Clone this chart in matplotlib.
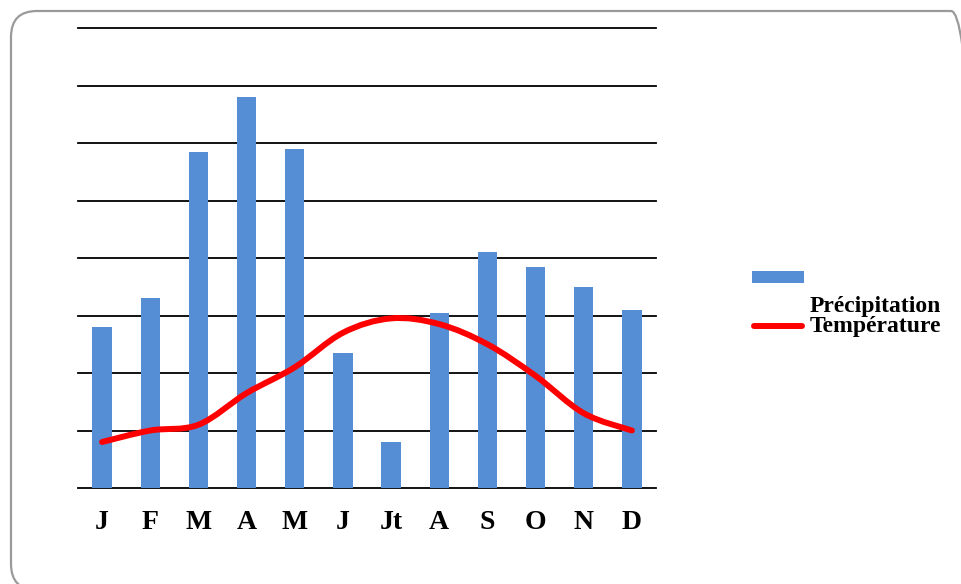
import numpy as np
import matplotlib
matplotlib.use('Agg')
import matplotlib.pyplot as plt
from matplotlib.path import Path
from matplotlib.patches import PathPatch, FancyBboxPatch, Rectangle
from matplotlib.lines import Line2D
from matplotlib.transforms import IdentityTransform

# data
mois = ['J', 'F', 'M', 'A', 'M', 'J', 'Jt', 'A', 'S', 'O', 'N', 'D']
precip = [56, 66, 117, 136, 118, 47, 16, 61, 82, 77, 70, 62]          # mm
temp = [8, 10, 11, 16.5, 21, 27, 29.5, 28.5, 25, 19.5, 13, 10]        # degC (P = 2T)

bleu = '#558ED5'
rouge = '#FF0000'
serif = ['Liberation Serif', 'DejaVu Serif']

W, H, dpi = 961, 584, 100
fig = plt.figure(figsize=(W / dpi, H / dpi), dpi=dpi)

# cadre arrondi gris (coupe a droite et en bas)
cadre = FancyBboxPatch((11, -6), 966, H - 5, boxstyle='round,pad=0,rounding_size=26',
                       transform=IdentityTransform(), facecolor='none',
                       edgecolor='#9a9a9a', linewidth=1.6, zorder=5)
fig.patches.append(cadre)

ax = fig.add_axes([78 / W, (H - 488) / H, (656 - 78) / W, (488 - 28) / H])
ax.patch.set_alpha(0)
x = np.arange(len(mois))
ax.bar(x, precip, width=0.4, color=bleu, zorder=2)
ax.set_xlim(-0.5, len(mois) - 0.5)
ax.set_ylim(0, 160)
ax.set_yticks(np.arange(0, 161, 20))
ax.yaxis.grid(True, color='black', linewidth=1.3, zorder=1)
ax.set_axisbelow(True)
ax.set_xticks(x)
ax.set_xticklabels(mois, fontfamily=serif, fontweight='bold', fontsize=20)
for s in ax.spines.values():
    s.set_visible(False)

# temperature, courbe lissee (style Excel) sur un second axe
ax2 = ax.twinx()
ax2.set_ylim(0, 80)
ax2.set_xlim(ax.get_xlim())
ax2.axis('off')
ax.tick_params(axis='y', left=False, right=False, labelleft=False)
ax.tick_params(axis='x', length=0, pad=16)
for gl in ax.get_ygridlines():
    gl.set_clip_on(False)

px = x.astype(float)
py = np.array(temp, dtype=float)
verts = [(px[0], py[0])]
codes = [Path.MOVETO]
n = len(px)
for i in range(n - 1):
    p0 = (px[max(i - 1, 0)], py[max(i - 1, 0)])
    p1 = (px[i], py[i])
    p2 = (px[i + 1], py[i + 1])
    p3 = (px[min(i + 2, n - 1)], py[min(i + 2, n - 1)])
    c1 = (p1[0] + (p2[0] - p0[0]) / 6, p1[1] + (p2[1] - p0[1]) / 6)
    c2 = (p2[0] - (p3[0] - p1[0]) / 6, p2[1] - (p3[1] - p1[1]) / 6)
    verts += [c1, c2, p2]
    codes += [Path.CURVE4] * 3
ax2.add_patch(PathPatch(Path(verts, codes), facecolor='none', edgecolor=rouge,
                        linewidth=4.3, capstyle='round', zorder=3))

# legende
fig.patches.append(Rectangle((752, H - 283), 52, 12, transform=IdentityTransform(),
                             facecolor=bleu, edgecolor='none'))
fig.lines.append(Line2D([754, 802], [H - 326, H - 326], transform=IdentityTransform(),
                        color=rouge, linewidth=4.3, solid_capstyle='round'))
fig.text(810 / W, (H - 312) / H, 'Précipitation', fontfamily=serif, fontweight='bold',
         fontsize=17, va='baseline', ha='left')
fig.text(810 / W, (H - 332) / H, 'Température', fontfamily=serif, fontweight='bold',
         fontsize=17, va='baseline', ha='left')

fig.savefig('out.png', dpi=dpi)
